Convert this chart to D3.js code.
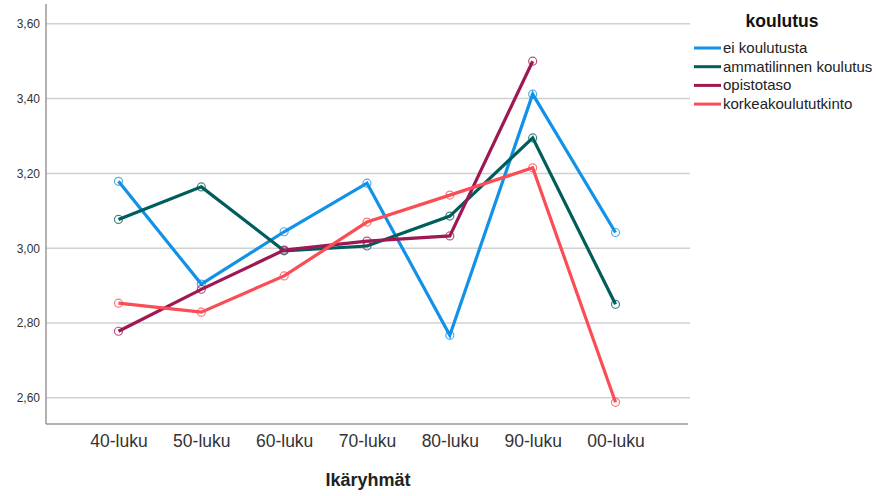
<!DOCTYPE html>
<html>
<head>
<meta charset="utf-8">
<script src="https://cdn.jsdelivr.net/npm/d3@7"></script>
<style>
  body { margin: 0; background: #fff; }
  text { font-family: Arial, "Liberation Sans", sans-serif; }
</style>
</head>
<body>
<div id="wrapper"></div>
<script>
// data
const categories = ["40-luku", "50-luku", "60-luku", "70-luku", "80-luku", "90-luku", "00-luku"]
const seriesNames = ["ei koulutusta", "ammatilinnen koulutus", "opistotaso", "korkeakoulututkinto"]
const eiKoulutusta = [3.179, 2.904, 3.044, 3.174, 2.767, 3.412, 3.042]
const ammatilinnen = [3.077, 3.164, 2.993, 3.006, 3.086, 3.295, 2.850]
const opistotaso = [2.778, 2.890, 2.995, 3.019, 3.033, 3.500, null]
const korkeakoulu = [2.853, 2.829, 2.926, 3.070, 3.142, 3.215, 2.588]
const yTicks = [2.6, 2.8, 3.0, 3.2, 3.4, 3.6]
const colors = ["#1192e8", "#005d5d", "#9f1853", "#fa4d56"]

const series = [eiKoulutusta, ammatilinnen, opistotaso, korkeakoulu].map((vals, i) => ({
    name: seriesNames[i],
    color: colors[i],
    values: vals.map((v, j) => ({ cat: categories[j], value: v })).filter(d => d.value != null)
}))

// dimensions
const dimensions = {
    width: 876,
    height: 496,
    margins: { top: 4, right: 188, bottom: 72, left: 46 }
}
dimensions.boundedWidth = dimensions.width - dimensions.margins.left - dimensions.margins.right
dimensions.boundedHeight = dimensions.height - dimensions.margins.top - dimensions.margins.bottom

const wrapper = d3.select("#wrapper")
    .append("svg")
    .attr("width", dimensions.width)
    .attr("height", dimensions.height)

const bounds = wrapper.append("g")
    .attr("transform", `translate(${dimensions.margins.left},${dimensions.margins.top})`)

// scales
const xScale = d3.scalePoint()
    .domain(categories)
    .range([0, dimensions.boundedWidth])
    .padding(0.875)

const yScale = d3.scaleLinear()
    .domain([2.53, 3.653])
    .range([dimensions.boundedHeight, 0])

// gridlines
bounds.append("g")
    .selectAll("line")
    .data(yTicks)
    .join("line")
    .attr("x1", 0)
    .attr("x2", dimensions.boundedWidth + 2)
    .attr("y1", d => yScale(d))
    .attr("y2", d => yScale(d))
    .attr("stroke", "#d0d0d0")
    .attr("stroke-width", 1.5)

// y axis
const yAxis = d3.axisLeft(yScale)
    .tickValues(yTicks)
    .tickSize(0)
    .tickPadding(6)
    .tickFormat(d => d3.format(".2f")(d).replace(".", ","))
const yAxisG = bounds.append("g").call(yAxis)
yAxisG.select(".domain").remove()
yAxisG.selectAll("text")
    .attr("font-size", 12)
    .attr("fill", "#333")

// x axis
const xAxis = d3.axisBottom(xScale).tickSize(0).tickPadding(11)
const xAxisG = bounds.append("g")
    .attr("transform", `translate(0,${dimensions.boundedHeight})`)
    .call(xAxis)
xAxisG.select(".domain").remove()
xAxisG.selectAll("text")
    .attr("font-size", 17.5)
    .attr("fill", "#333")

// axis lines
bounds.append("line")
    .attr("x1", 0).attr("x2", 0)
    .attr("y1", 0).attr("y2", dimensions.boundedHeight)
    .attr("stroke", "#999").attr("stroke-width", 1.5)
bounds.append("line")
    .attr("x1", 0).attr("x2", dimensions.boundedWidth)
    .attr("y1", dimensions.boundedHeight).attr("y2", dimensions.boundedHeight)
    .attr("stroke", "#999").attr("stroke-width", 1.5)

// lines
const lineGen = d3.line()
    .x(d => xScale(d.cat))
    .y(d => yScale(d.value))

const seriesG = bounds.selectAll(".series")
    .data(series)
    .join("g")
    .attr("class", "series")

seriesG.append("path")
    .attr("d", d => lineGen(d.values))
    .attr("fill", "none")
    .attr("stroke", d => d.color)
    .attr("stroke-width", 3.2)

seriesG.selectAll("circle")
    .data(d => d.values.map(v => ({ ...v, color: d.color })))
    .join("circle")
    .attr("cx", d => xScale(d.cat))
    .attr("cy", d => yScale(d.value))
    .attr("r", 4)
    .attr("fill", "none")
    .attr("stroke", d => d.color)
    .attr("stroke-opacity", 0.75)
    .attr("stroke-width", 1.2)

// x axis title
wrapper.append("text")
    .attr("x", dimensions.margins.left + dimensions.boundedWidth / 2 + 1)
    .attr("y", 486)
    .attr("text-anchor", "middle")
    .attr("font-size", 18)
    .attr("font-weight", "bold")
    .attr("fill", "#222")
    .text("Ikäryhmät")

// legend
const legend = wrapper.append("g")
    .attr("transform", "translate(694,0)")

legend.append("text")
    .attr("x", 88)
    .attr("y", 27)
    .attr("text-anchor", "middle")
    .attr("font-size", 17.5)
    .attr("font-weight", "bold")
    .attr("fill", "#111")
    .text("koulutus")

const items = legend.selectAll(".item")
    .data(series)
    .join("g")
    .attr("class", "item")
    .attr("transform", (d, i) => `translate(0,${48 + i * 18.7})`)

items.append("line")
    .attr("x1", 0).attr("x2", 27)
    .attr("stroke", d => d.color)
    .attr("stroke-width", 3)

items.append("text")
    .attr("x", 29)
    .attr("y", 5)
    .attr("font-size", 15)
    .attr("fill", "#222")
    .text(d => d.name)
</script>
</body>
</html>
